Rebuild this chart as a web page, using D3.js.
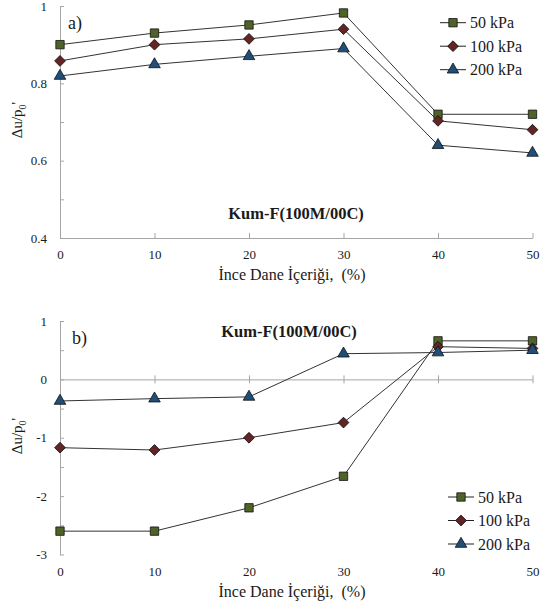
<!DOCTYPE html>
<html>
<head>
<meta charset="utf-8">
<script src="https://cdn.jsdelivr.net/npm/d3@7"></script>
<style>
    body { margin: 0; background: #fff; }
    svg text { font-family: "Liberation Serif", serif; fill: #1a1a1a; }
    .domain, .tick line { stroke: #a6a6a6; }
</style>
</head>
<body>
<div id="chart-container"></div>
<script>
// fines content (%)
var fines = [0, 10, 20, 30, 40, 50];
var seriesNames = ["50 kPa", "100 kPa", "200 kPa"];

// panel a)
var topValues50 = [0.90, 0.93, 0.951, 0.982, 0.72, 0.72];
var topValues100 = [0.858, 0.90, 0.915, 0.94, 0.703, 0.68];
var topValues200 = [0.819, 0.849, 0.87, 0.89, 0.64, 0.62];

// panel b)
var botValues50 = [-2.6, -2.6, -2.2, -1.66, 0.66, 0.66];
var botValues100 = [-1.17, -1.21, -1.0, -0.74, 0.56, 0.53];
var botValues200 = [-0.37, -0.33, -0.3, 0.44, 0.46, 0.5];

var xTicks = [0, 10, 20, 30, 40, 50];

var serif = "Liberation Serif";

var styles = [
    {fill: "#4f6228", shape: d3.symbolSquare, size: 70, rot: 0},
    {fill: "#632523", shape: d3.symbolSquare, size: 58, rot: 45},
    {fill: "#1f4e79", shape: d3.symbolTriangle, size: 58, rot: 0}
];

var svg = d3.select("#chart-container").append("svg")
    .attr("width", 540).attr("height", 606)
    .attr("font-family", serif);

var xScale = d3.scaleLinear().domain([0, 50]).range([60, 532.5]);

function txt(g, size) {
    return g.append("text")
        .attr("font-family", serif)
        .style("font-family", serif)
        .style("font-size", size + "px");
}

function marker(g, s, x, y) {
    return g.append("path")
        .attr("transform", "translate(" + x + "," + y + ") rotate(" + styles[s].rot + ")")
        .attr("d", d3.symbol().type(styles[s].shape).size(styles[s].size)())
        .attr("fill", styles[s].fill)
        .attr("stroke", "#111")
        .attr("stroke-width", 0.8);
}

function drawSeries(g, yScale, valueSets) {
    valueSets.forEach(function(vals, s) {
        var pts = fines.map(function(f, i) { return [f, vals[i]]; });
        var line = d3.line()
            .x(function(d) { return xScale(d[0]); })
            .y(function(d) { return yScale(d[1]); });
        g.append("path").datum(pts)
            .attr("d", line)
            .attr("fill", "none")
            .attr("stroke", "#333")
            .attr("stroke-width", 1);
    });
    valueSets.forEach(function(vals, s) {
        fines.forEach(function(f, i) {
            marker(g, s, xScale(f), yScale(vals[i]));
        });
    });
}

function drawLegend(g, x, y0) {
    seriesNames.forEach(function(name, s) {
        var y = y0 + s * 23.5;
        g.append("line")
            .attr("x1", x).attr("x2", x + 26)
            .attr("y1", y).attr("y2", y)
            .attr("stroke", "#222").attr("stroke-width", 1);
        marker(g, s, x + 13, y);
        txt(g, 16)
            .attr("x", x + 30).attr("y", y)
            .attr("dy", "0.35em")
            .text(name);
    });
}

function yLabel(g, cx, cy) {
    var t = txt(g, 15)
        .attr("transform", "translate(" + cx + "," + cy + ") rotate(-90)")
        .attr("text-anchor", "middle");
    t.append("tspan").text("Δu/p");
    t.append("tspan").attr("dy", 4).style("font-size", "10px").text("0");
    t.append("tspan").attr("dy", -4).text("'");
}

function xTitle(g, y) {
    txt(g, 16)
        .attr("x", 292).attr("y", y)
        .attr("text-anchor", "middle")
        .attr("xml:space", "preserve")
        .text("İnce Dane İçeriği,  (%)");
}

function boldTitle(g, x, y) {
    txt(g, 16.5)
        .attr("x", x).attr("y", y)
        .attr("text-anchor", "middle")
        .style("font-weight", "bold")
        .text("Kum-F(100M/00C)");
}

function styleTicks(sel) {
    sel.attr("font-family", serif);
    sel.selectAll("text").style("font-size", "13px").style("font-family", serif);
}

// ---- panel a ----
var gA = svg.append("g");
var yA = d3.scaleLinear().domain([0.4, 1]).range([238, 6]);

var yAxisA = d3.axisLeft(yA)
    .tickValues(d3.range(0.4, 1.0001, 0.1))
    .tickSizeInner(-4).tickSizeOuter(0).tickPadding(13)
    .tickFormat(function(d) {
        var r = Math.round(d * 10);
        return r % 2 === 0 ? d3.format("")(r / 10) : "";
    });
gA.append("g").attr("transform", "translate(60,0)").call(yAxisA).call(styleTicks);

var xAxisA = d3.axisBottom(xScale).tickValues(xTicks)
    .tickSizeInner(-5).tickSizeOuter(0).tickPadding(12);
gA.append("g").attr("transform", "translate(0,238)").call(xAxisA).call(styleTicks);

drawSeries(gA, yA, [topValues50, topValues100, topValues200]);
drawLegend(gA, 440, 22.7);
yLabel(gA, 22, 120);
xTitle(gA, 280);
boldTitle(gA, 296, 219);
txt(gA, 18).attr("x", 68).attr("y", 29).text("a)");

// ---- panel b ----
var gB = svg.append("g");
var yB = d3.scaleLinear().domain([-3, 1]).range([554.5, 321]);

var yAxisB = d3.axisLeft(yB)
    .tickValues(d3.range(-3, 1.0001, 0.5))
    .tickSizeInner(-4).tickSizeOuter(0).tickPadding(13)
    .tickFormat(function(d) { return d % 1 === 0 ? d : ""; });
gB.append("g").attr("transform", "translate(60,0)").call(yAxisB).call(styleTicks);

var xAxisB = d3.axisBottom(xScale).tickValues(xTicks.slice(1))
    .tickSizeInner(4).tickSizeOuter(0).tickFormat("");
var xAxisBg = gB.append("g").attr("transform", "translate(0," + yB(0) + ")").call(xAxisB);
xAxisBg.selectAll(".tick line").attr("y1", -4);

var xLabelsB = d3.axisBottom(xScale).tickValues(xTicks)
    .tickSize(0).tickPadding(12);
var lb = gB.append("g").attr("transform", "translate(0," + yB(-3) + ")").call(xLabelsB).call(styleTicks);
lb.select(".domain").remove();

drawSeries(gB, yB, [botValues50, botValues100, botValues200]);
drawLegend(gB, 448, 497);
yLabel(gB, 22, 436);
xTitle(gB, 597);
boldTitle(gB, 289, 337);
txt(gB, 18).attr("x", 72).attr("y", 344).text("b)");
</script>
</body>
</html>
